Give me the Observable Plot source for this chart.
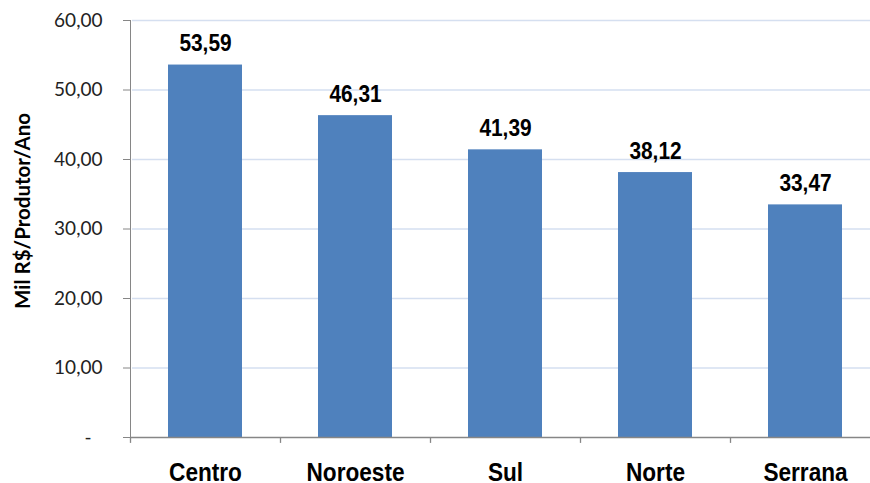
<!DOCTYPE html>
<html>
<head>
<meta charset="utf-8">
<script src="https://cdn.jsdelivr.net/npm/d3@7"></script>
<script src="https://cdn.jsdelivr.net/npm/@observablehq/plot@0.6"></script>
<style>
  html, body { margin: 0; padding: 0; background: #fff; }
  #chart { width: 870px; height: 483px; overflow: hidden; }
</style>
</head>
<body>
<div id="chart"></div>
<script>
// Renda média por região (mil R$ por produtor por ano)
const regions = ["Centro", "Noroeste", "Sul", "Norte", "Serrana"];
const values = [53.59, 46.31, 41.39, 38.12, 33.47];
const yTicks = [0, 10, 20, 30, 40, 50, 60];
const yTitle = "Mil R$/Produtor/Ano";

const data = regions.map((region, i) => ({region, value: values[i]}));
const fmt = v => v.toFixed(2).replace(".", ",");

const W = 870, H = 483;
const mLeft = 130, mRight = -10, mTop = 20, mBottom = 46;
const step = (W - mRight - mLeft) / regions.length;

const boldFont = "'Liberation Sans', Arial, sans-serif";
const axisFont = "Lato, Calibri, 'Open Sans', sans-serif";
const axisGray = "#868686";

const chart = Plot.plot({
  width: W,
  height: H,
  marginLeft: mLeft,
  marginRight: mRight,
  marginTop: mTop,
  marginBottom: mBottom,
  style: {background: "#fff", overflow: "hidden"},
  x: {domain: regions, paddingInner: 0.507, paddingOuter: 0.2535, range: [mLeft, W - mRight]},
  y: {domain: [0, 60], range: [H - mBottom, mTop]},
  marks: [
    // horizontal gridlines
    Plot.gridY(yTicks.filter(d => d > 0), {stroke: "#d5dff0", strokeOpacity: 1, strokeWidth: 1.4, insetLeft: 2}),
    Plot.barY(data, {x: "region", y: "value", fill: "#4f81bd"}),
    // value labels above bars
    Plot.text(data, {
      x: "region", y: "value", text: d => fmt(d.value),
      dy: -14, lineAnchor: "bottom",
      fontFamily: boldFont, fontWeight: "bold", fontSize: 24, fill: "#000",
      className: "narrow-label"
    }),
    // y axis
    Plot.axisY(yTicks, {
      tickSize: 7, tickPadding: 21, stroke: axisGray,
      tickFormat: d => d === 0 ? "" : fmt(d),
      fontFamily: axisFont, fontSize: 19, fill: "#222", label: null
    }),
    Plot.text([0], {
      y: d => d, text: () => "-", frameAnchor: "left", textAnchor: "end", dx: -39,
      fontFamily: axisFont, fontSize: 19, fill: "#222"
    }),
    Plot.frame({anchor: "left", stroke: axisGray}),
    // x axis line and category separators
    Plot.ruleY([0], {stroke: axisGray, strokeWidth: 1.3}),
    Plot.ruleX(regions, {x: d => d, y1: 0, y2: -0.85, dx: -step / 2, stroke: axisGray, strokeWidth: 1.3}),
    Plot.axisX({
      tickSize: 0, tickPadding: 25, label: null,
      fontFamily: boldFont, fontWeight: "bold", fontSize: 26, fill: "#000",
      className: "narrow-label"
    }),
    // y axis title
    Plot.text([yTitle], {
      frameAnchor: "left", text: d => d, rotate: -90,
      textAnchor: "middle", lineAnchor: "bottom",
      dx: -101, dy: -18,
      fontFamily: axisFont, fontWeight: "bold", fontSize: 20.5, fill: "#000"
    })
  ]
});

// condense the bold labels horizontally (narrow bold face)
chart.querySelectorAll(".narrow-label text").forEach(t => {
  const tr = t.getAttribute("transform") || "";
  t.setAttribute("transform", `${tr} scale(0.87,1)`);
});

document.getElementById("chart").appendChild(chart);
</script>
</body>
</html>
